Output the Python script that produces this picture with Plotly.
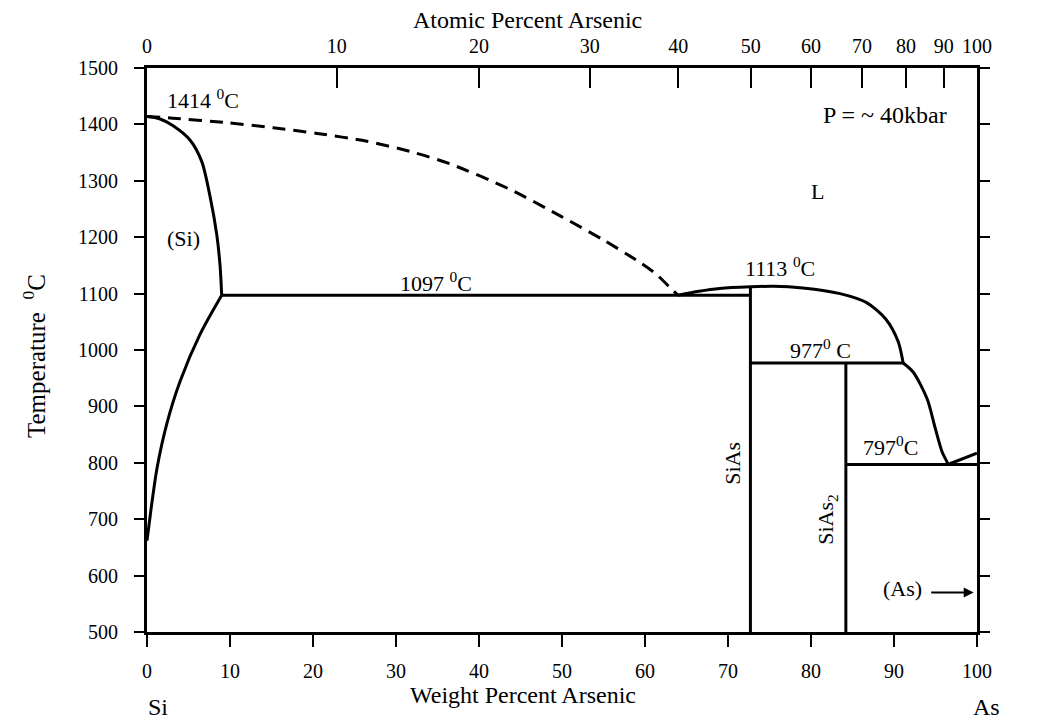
import plotly.graph_objects as go

# Si-As phase diagram at ~40 kbar (weight percent As vs temperature)

# Solidus of the (Si) solid solution, from the Si melting point to the eutectic
si_solidus_wt = [0, 1.5, 3.1, 5.2, 6.6, 7.6, 8.4, 8.8, 9.0]
si_solidus_t = [1414, 1410, 1398, 1372, 1334, 1272, 1205, 1150, 1097]

# Solvus of the (Si) solid solution below the eutectic
si_solvus_wt = [9.0, 6.4, 4.0, 2.4, 1.2, 0.4, 0.0]
si_solvus_t = [1097, 1028, 945, 870, 790, 708, 662]

# Estimated (dashed) liquidus on the Si-rich side
liq_dashed_wt = [0, 3.1, 9.6, 15.2, 20.5, 26.5, 31.7, 36.5, 43.7, 50.0, 55.0, 59.2, 61.3, 63.4, 64.0]
liq_dashed_t = [1414, 1411, 1403, 1394, 1384, 1370, 1352, 1330, 1285, 1236, 1195, 1157, 1135, 1105, 1097]

# Liquidus on the As-rich side (through the SiAs maximum and the 977 peritectic)
liq_wt = [64.0, 66.5, 69.0, 72.7, 75.5, 79.0, 83.5, 86.7, 89.0, 90.5, 91.1, 92.3, 94.0, 94.9, 95.8, 96.4, 96.5]
liq_t = [1097, 1104, 1109, 1112, 1113, 1110, 1100, 1084, 1055, 1015, 977, 961, 913, 865, 819, 801, 797]

# Invariant temperatures and compound compositions
T_EUT_SI = 1097
T_SIAS_MAX = 1113
T_PERITECTIC = 977
T_EUT_AS = 797
T_AS_MELT = 817
T_MIN = 500
W_EUT_SI_SOLID = 9.0
W_SIAS = 72.7
W_SIAS2 = 84.2
W_PERITECTIC_LIQ = 91.1
W_EUT_AS = 96.5

# Axis ticks
wt_ticks = list(range(0, 101, 10))
temp_ticks = list(range(500, 1501, 100))
at_ticks = [0, 10, 20, 30, 40, 50, 60, 70, 80, 90, 100]

M_SI = 28.086
M_AS = 74.92


def atomic_to_weight(a):
    return 100.0 * a * M_AS / (a * M_AS + (100.0 - a) * M_SI)


at_tick_pos = [atomic_to_weight(a) for a in at_ticks]

SERIF = "Liberation Serif"
LW = 3

fig = go.Figure()


def add_line(xs, ys, dash="solid", width=LW, shape="linear"):
    fig.add_trace(go.Scatter(x=xs, y=ys, mode="lines",
                             line=dict(color="black", width=width, dash=dash,
                                       shape=shape, smoothing=0.8),
                             hoverinfo="skip", showlegend=False))


add_line(si_solidus_wt, si_solidus_t, shape="spline")
add_line(si_solvus_wt, si_solvus_t, shape="spline")
add_line(liq_dashed_wt, liq_dashed_t, dash="13px,8px", shape="spline")
add_line(liq_wt[:11], liq_t[:11], shape="spline")
add_line(liq_wt[10:], liq_t[10:], shape="spline")
# eutectic, peritectic and compound lines
add_line([W_EUT_SI_SOLID, W_SIAS], [T_EUT_SI, T_EUT_SI])
add_line([W_SIAS, W_SIAS], [T_SIAS_MAX, T_MIN])
add_line([W_SIAS, W_PERITECTIC_LIQ], [T_PERITECTIC, T_PERITECTIC])
add_line([W_SIAS2, W_SIAS2], [T_PERITECTIC, T_MIN])
add_line([W_SIAS2, 100], [T_EUT_AS, T_EUT_AS])
add_line([W_EUT_AS, 100], [T_EUT_AS, T_AS_MELT])

# invisible trace that carries the atomic-percent axis
fig.add_trace(go.Scatter(x=[0, 100], y=[T_MIN, T_MIN], xaxis="x2", mode="lines",
                         line=dict(width=0), hoverinfo="skip", showlegend=False))

FS = 22


def label(x, y, text, angle=0, size=FS):
    fig.add_annotation(x=x, y=y, text=text, showarrow=False, textangle=angle,
                       xanchor="center", yanchor="middle",
                       font=dict(family=SERIF, size=size, color="black"))


label(6.8, 1445, "1414 <sup>0</sup>C")
label(4.4, 1197, "(Si)")
label(34.8, 1121, "1097 <sup>0</sup>C")
label(76.3, 1148, "1113 <sup>0</sup>C")
label(81.2, 1002, "977<sup>0</sup> C")
label(89.6, 829, "797<sup>0</sup>C")
label(104.6, 829, "817<sup>0</sup>")
label(80.8, 1281, "L")
label(88.9, 1416, "P = ~ 40kbar", size=24)
label(70.6, 800, "SiAs", angle=-90)
label(82.0, 700, "SiAs<sub>2</sub>", angle=-90)
label(91.0, 578, "(As)")

# arrow pointing to the (As) terminal solid solution
fig.add_annotation(x=99.6, y=570, ax=94.3, ay=570, xref="x", yref="y",
                   axref="x", ayref="y", text="", showarrow=True,
                   arrowhead=2, arrowsize=1, arrowwidth=2, arrowcolor="black")


def paper_label(px, py, text, size=25, angle=0):
    fig.add_annotation(x=(px - 147) / 830.0, y=(632 - py) / 564.0,
                       xref="paper", yref="paper", text=text, showarrow=False,
                       textangle=angle, xanchor="center", yanchor="middle",
                       font=dict(family=SERIF, size=size, color="black"))


paper_label(527, 20, "Atomic Percent Arsenic", size=24)
paper_label(523, 695, "Weight Percent Arsenic", size=24)
paper_label(158, 707, "Si", size=24)
paper_label(987, 707, "As", size=24)
paper_label(34, 356, "Temperature  <sup>0</sup>C", angle=-90)

tick_font = dict(family=SERIF, size=20, color="black")

fig.update_layout(
    width=1047, height=721,
    margin=dict(l=147, r=70, t=68, b=89),
    paper_bgcolor="white", plot_bgcolor="white",
    showlegend=False,
    xaxis=dict(range=[0, 100], tickvals=wt_ticks,
               ticktext=[str(v) for v in wt_ticks],
               ticks="outside", ticklen=12, tickwidth=2, tickcolor="black",
               showline=True, linewidth=LW, linecolor="black", mirror=True,
               showgrid=False, zeroline=False, tickfont=tick_font,
               ticklabelstandoff=7),
    xaxis2=dict(range=[0, 100], overlaying="x", side="top",
                tickvals=at_tick_pos, ticktext=[str(a) for a in at_ticks],
                ticks="inside", ticklen=20, tickwidth=2, tickcolor="black",
                showline=False, showgrid=False, zeroline=False,
                tickfont=tick_font, ticklabelstandoff=10),
    yaxis=dict(range=[T_MIN, 1500], tickvals=temp_ticks,
               ticktext=[str(v) for v in temp_ticks],
               ticks="outside", ticklen=10, tickwidth=2, tickcolor="black",
               showline=True, linewidth=LW, linecolor="black", mirror="ticks",
               showgrid=False, zeroline=False, tickfont=tick_font,
               ticklabelstandoff=12),
)

fig.write_html("out.html")
